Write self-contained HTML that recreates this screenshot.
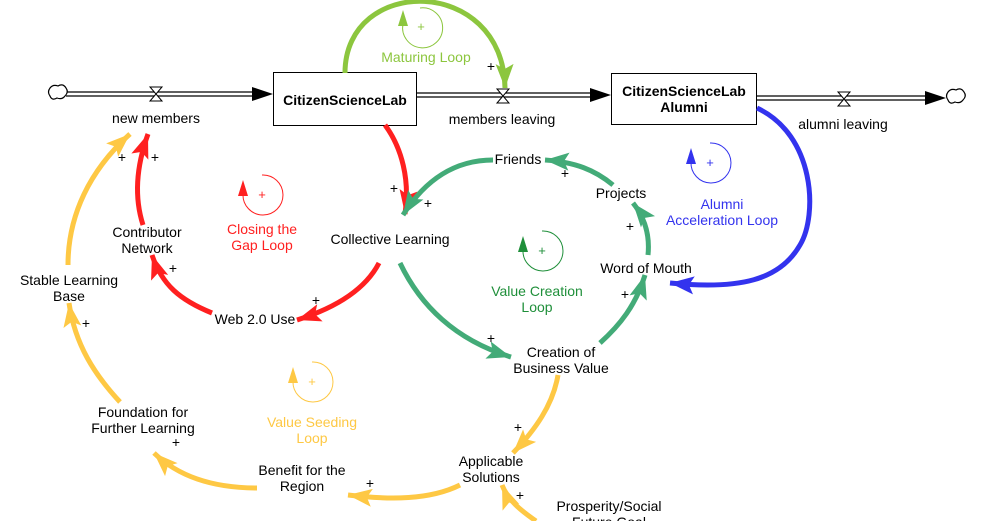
<!DOCTYPE html>
<html><head><meta charset="utf-8"><style>
html,body{margin:0;padding:0;background:#fff;}
svg{display:block;font-family:"Liberation Sans",Arial,sans-serif;}
text{font-size:14px;}
</style></head><body>
<svg width="991" height="521" viewBox="0 0 991 521" xmlns="http://www.w3.org/2000/svg">
<defs>
<marker id="aR" markerUnits="userSpaceOnUse" markerWidth="28" markerHeight="22" refX="24" refY="9" orient="auto" style="overflow:visible"><path d="M0,0 L24,9 L0,18 L5,9 Z" fill="#ff2020"/></marker>
<marker id="aY" markerUnits="userSpaceOnUse" markerWidth="28" markerHeight="22" refX="24" refY="9" orient="auto" style="overflow:visible"><path d="M0,0 L24,9 L0,18 L5,9 Z" fill="#fec844"/></marker>
<marker id="aG" markerUnits="userSpaceOnUse" markerWidth="28" markerHeight="22" refX="24" refY="9" orient="auto" style="overflow:visible"><path d="M0,0 L24,9 L0,18 L5,9 Z" fill="#43ab78"/></marker>
<marker id="aL" markerUnits="userSpaceOnUse" markerWidth="28" markerHeight="22" refX="24" refY="9" orient="auto" style="overflow:visible"><path d="M0,0 L24,9 L0,18 L5,9 Z" fill="#8cc63e"/></marker>
<marker id="aB" markerUnits="userSpaceOnUse" markerWidth="28" markerHeight="22" refX="24" refY="9" orient="auto" style="overflow:visible"><path d="M0,0 L24,9 L0,18 L5,9 Z" fill="#3333ee"/></marker>
</defs>

<g stroke="#000" stroke-width="1.2" fill="none">
<line x1="66" y1="92" x2="256" y2="92"/><line x1="66" y1="96" x2="256" y2="96"/>
<line x1="416" y1="93" x2="594" y2="93"/><line x1="416" y1="97" x2="594" y2="97"/>
<line x1="756" y1="96" x2="928" y2="96"/><line x1="756" y1="100" x2="928" y2="100"/>
<path d="M50,88 q3,-4 8,-2 q5,-3 8,2 q3,4 -1,8 q-3,4 -8,2 q-5,3 -7,-2 q-3,-4 0,-8Z" fill="#fff"/>
<path d="M948,92 q3,-4 8,-2 q5,-3 8,2 q3,4 -1,8 q-3,4 -8,2 q-5,3 -7,-2 q-3,-4 0,-8Z" fill="#fff"/>
</g>
<path d="M252,87 L273,94 L252,101 Z"/>
<path d="M590,88 L611,95 L590,102 Z"/>
<path d="M925,91 L946,98 L925,105 Z"/>
<g stroke="#000" stroke-width="1" fill="#fff">
<path d="M150,87 L162,87 L150,101 L162,101 Z"/>
<path d="M497,89 L509,89 L497,103 L509,103 Z"/>
<path d="M838,92 L850,92 L838,106 L850,106 Z"/>
</g>
<rect x="273.5" y="72.5" width="143" height="53" fill="#fff" stroke="#000"/>
<rect x="611.5" y="73.5" width="145" height="51" fill="#fff" stroke="#000"/>
<text x="345" y="105" text-anchor="middle" font-weight="bold">CitizenScienceLab</text>
<text x="684" y="96" text-anchor="middle" font-weight="bold">CitizenScienceLab</text>
<text x="684" y="112" text-anchor="middle" font-weight="bold">Alumni</text>

<g fill="none" stroke-width="5">
<path d="M345,73 C345,-25 503,-25 505,88" stroke="#8cc63e" marker-end="url(#aL)"/>
<path d="M385,125 C402,148 410,180 405,214" stroke="#ff2020" marker-end="url(#aR)"/>
<path d="M493,160 C455,160 425,180 403,215" stroke="#43ab78" marker-end="url(#aG)"/>
<path d="M613,185 C595,170 575,162 545,160" stroke="#43ab78" marker-end="url(#aG)"/>
<path d="M648,255 C650,235 645,218 633,203" stroke="#43ab78" marker-end="url(#aG)"/>
<path d="M600,343 C620,325 636,305 645,275" stroke="#43ab78" marker-end="url(#aG)"/>
<path d="M400,263 C420,305 455,340 511,357" stroke="#43ab78" marker-end="url(#aG)"/>
<path d="M379,263 C365,290 335,308 297,320" stroke="#ff2020" marker-end="url(#aR)"/>
<path d="M212,313 C180,300 162,285 152,255" stroke="#ff2020" marker-end="url(#aR)"/>
<path d="M143,225 C135,200 135,170 148,134" stroke="#ff2020" marker-end="url(#aR)"/>
<path d="M68,265 C68,215 90,170 130,134" stroke="#fec844" marker-end="url(#aY)"/>
<path d="M120,402 C95,375 75,345 69,303" stroke="#fec844" marker-end="url(#aY)"/>
<path d="M257,488 C215,488 180,478 154,453" stroke="#fec844" marker-end="url(#aY)"/>
<path d="M460,485 C430,500 390,500 348,495" stroke="#fec844" marker-end="url(#aY)"/>
<path d="M558,375 C553,405 535,430 513,453" stroke="#fec844" marker-end="url(#aY)"/>
<path d="M536,521 C520,510 508,500 502,485" stroke="#fec844" marker-end="url(#aY)"/>
<path d="M757,108 C815,135 818,215 800,245 C780,280 740,290 670,283" stroke="#3333ee" marker-end="url(#aB)"/>
</g>

<g fill="none" stroke-width="1">
<path d="M403,24 A20,20 0 1 0 420,8" stroke="#8cc63e"/>
<path d="M243,194 A20,20 0 1 0 262,175" stroke="#ff2020"/>
<path d="M691,162 A20,20 0 1 0 710,143" stroke="#3333ee"/>
<path d="M523,250 A20,20 0 1 0 542,231" stroke="#1f8f3a"/>
<path d="M293,381 A20,20 0 1 0 312,362" stroke="#fec844"/>
</g>
<path d="M398,26 L403,10 L408,26Z" fill="#8cc63e"/>
<path d="M238,196 L243,180 L248,196Z" fill="#ff2020"/>
<path d="M686,164 L691,148 L696,164Z" fill="#3333ee"/>
<path d="M518,252 L523,236 L528,252Z" fill="#1f8f3a"/>
<path d="M288,383 L293,367 L298,383Z" fill="#fec844"/>
<g text-anchor="middle" font-size="13">
<text x="421" y="31" fill="#8cc63e" style="font-size:13px">+</text>
<text x="262" y="199" fill="#ff2020" style="font-size:13px">+</text>
<text x="710" y="167" fill="#3333ee" style="font-size:13px">+</text>
<text x="542" y="255" fill="#1f8f3a" style="font-size:13px">+</text>
<text x="312" y="386" fill="#fec844" style="font-size:13px">+</text>
</g>

<g text-anchor="middle">
<text x="426" y="62" fill="#8cc63e">Maturing Loop</text>
<text x="262" y="234" fill="#ff2020">Closing the</text>
<text x="262" y="250" fill="#ff2020">Gap Loop</text>
<text x="722" y="209" fill="#3333ee">Alumni</text>
<text x="722" y="225" fill="#3333ee">Acceleration Loop</text>
<text x="537" y="296" fill="#1f8f3a">Value Creation</text>
<text x="537" y="312" fill="#1f8f3a">Loop</text>
<text x="312" y="427" fill="#fec844">Value Seeding</text>
<text x="312" y="443" fill="#fec844">Loop</text>
</g>

<g text-anchor="middle" fill="#000">
<text x="156" y="123">new members</text>
<text x="502" y="124">members leaving</text>
<text x="843" y="129">alumni leaving</text>
<text x="518" y="164">Friends</text>
<text x="621" y="198">Projects</text>
<text x="390" y="244">Collective Learning</text>
<text x="147" y="237">Contributor</text>
<text x="147" y="253">Network</text>
<text x="69" y="285">Stable Learning</text>
<text x="69" y="301">Base</text>
<text x="646" y="273">Word of Mouth</text>
<text x="255" y="324">Web 2.0 Use</text>
<text x="561" y="357">Creation of</text>
<text x="561" y="373">Business Value</text>
<text x="143" y="417">Foundation for</text>
<text x="143" y="433">Further Learning</text>
<text x="491" y="466">Applicable</text>
<text x="491" y="482">Solutions</text>
<text x="302" y="475">Benefit for the</text>
<text x="302" y="491">Region</text>
<text x="609" y="511">Prosperity/Social</text>
<text x="609" y="527">Future Goal</text>
</g>

<g text-anchor="middle" fill="#000">
<text x="122" y="162">+</text><text x="155" y="162">+</text>
<text x="394" y="193">+</text><text x="428" y="208">+</text>
<text x="491" y="71">+</text>
<text x="565" y="178">+</text>
<text x="630" y="231">+</text>
<text x="173" y="273">+</text>
<text x="316" y="305">+</text>
<text x="86" y="328">+</text>
<text x="491" y="343">+</text>
<text x="625" y="299">+</text>
<text x="518" y="432">+</text>
<text x="176" y="447">+</text>
<text x="370" y="488">+</text>
<text x="520" y="500">+</text>
</g>
</svg>
</body></html>
